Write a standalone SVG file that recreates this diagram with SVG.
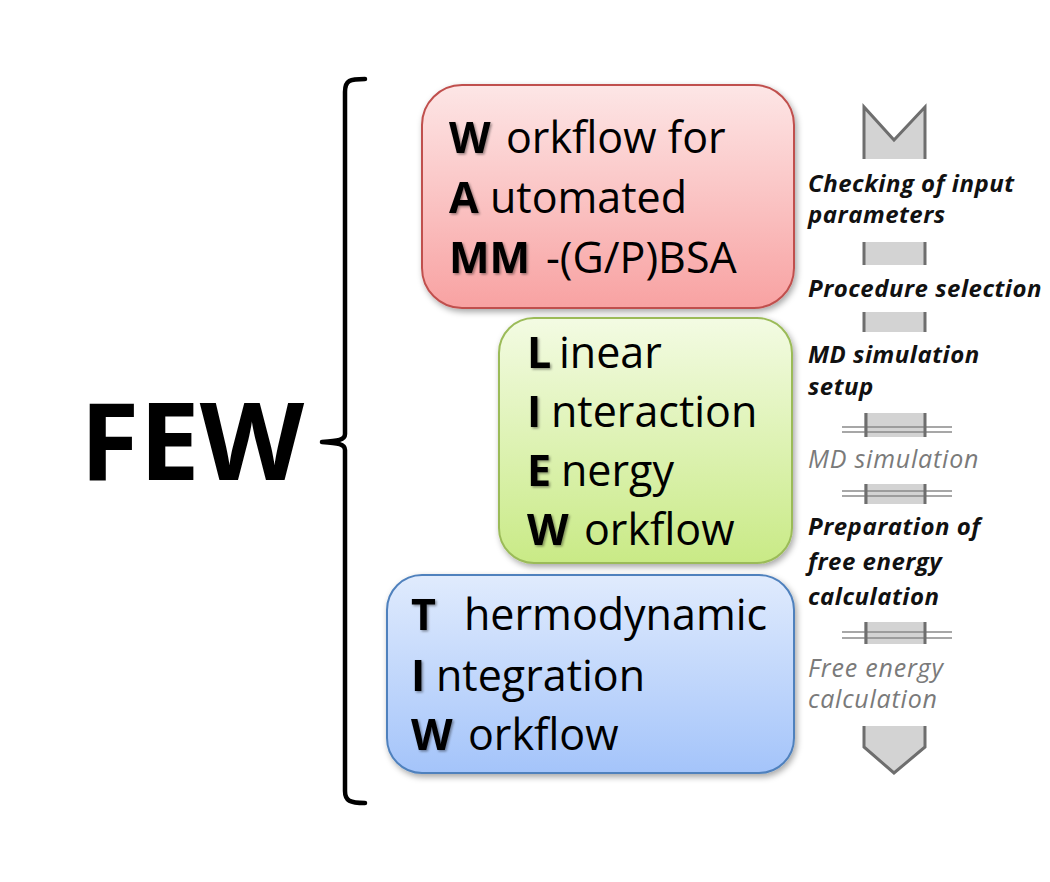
<svg xmlns="http://www.w3.org/2000/svg" width="1050" height="882" viewBox="0 0 1050 882">
<defs>
<linearGradient id="gRed" x1="0" y1="0" x2="0" y2="1"><stop offset="0" stop-color="#fde6e6"/><stop offset="1" stop-color="#f8a2a2"/></linearGradient>
<linearGradient id="gGreen" x1="0" y1="0" x2="0" y2="1"><stop offset="0" stop-color="#f3fbe3"/><stop offset="1" stop-color="#c9ea86"/></linearGradient>
<linearGradient id="gBlue" x1="0" y1="0" x2="0" y2="1"><stop offset="0" stop-color="#e0ebfd"/><stop offset="1" stop-color="#a4c4fa"/></linearGradient>
<filter id="shadow" x="-10%" y="-10%" width="130%" height="130%"><feDropShadow dx="2" dy="3" stdDeviation="3" flood-color="#000" flood-opacity="0.35"/></filter>
<filter id="tshadow" x="-20%" y="-20%" width="150%" height="150%"><feDropShadow dx="1.5" dy="1.5" stdDeviation="1" flood-color="#000" flood-opacity="0.4"/></filter>
</defs>
<style>
.big{font-family:"Open Sans",sans-serif;font-weight:bold;font-size:108px;fill:#000}
.t{font-family:"Open Sans",sans-serif;font-size:43px;fill:#000}
.b{font-weight:bold;filter:url(#tshadow)}
.s{font-family:"Open Sans",sans-serif;font-size:24px;font-style:italic;font-weight:bold;fill:#111;letter-spacing:0.5px}
.g{font-family:"Open Sans",sans-serif;font-size:25px;font-style:italic;fill:#7a7a7a;letter-spacing:0.8px}
.sh{fill:#d3d3d3;stroke:none}
.ed{stroke:#6e6e6e;stroke-width:3;fill:none}
.dl{stroke:#8a8a8a;stroke-width:1.5;fill:none}
</style>
<rect width="1050" height="882" fill="#fff"/>
<g id="few"><text class="big" x="80" y="480">FEW</text></g>
<g id="connectors">
<path d="M365,79 C350,79 345,80 345,92 L345,434 C345,440 338,441 322,442 C338,443 345,444 345,450 L345,791 C345,801 350,803 365,803" fill="none" stroke="#000" stroke-width="4.5" stroke-linejoin="round" stroke-linecap="round"/>
</g>
<g id="wamm">
<rect x="422" y="85" width="372" height="223" rx="40" fill="url(#gRed)" stroke="#c0504d" stroke-width="2" filter="url(#shadow)"/>
<text class="t" y="153"><tspan class="b" x="449">W</tspan><tspan x="506">orkflow for</tspan></text>
<text class="t" y="213"><tspan class="b" x="449">A</tspan><tspan x="490">utomated</tspan></text>
<text class="t" y="273"><tspan class="b" x="449">MM</tspan><tspan x="546">-(G/P)BSA</tspan></text>
</g>
<g id="liew">
<rect x="499" y="318" width="293" height="245" rx="35" fill="url(#gGreen)" stroke="#9bbb59" stroke-width="2" filter="url(#shadow)"/>
<text class="t" y="368"><tspan class="b" x="527">L</tspan><tspan x="559">inear</tspan></text>
<text class="t" y="427"><tspan class="b" x="527">I</tspan><tspan x="551">nteraction</tspan></text>
<text class="t" y="486"><tspan class="b" x="527">E</tspan><tspan x="561">nergy</tspan></text>
<text class="t" y="545"><tspan class="b" x="527">W</tspan><tspan x="584">orkflow</tspan></text>
</g>
<g id="tiw">
<rect x="387" y="575" width="407" height="198" rx="35" fill="url(#gBlue)" stroke="#4f81bd" stroke-width="2" filter="url(#shadow)"/>
<text class="t" y="630"><tspan class="b" x="411">T</tspan><tspan x="464">hermodynamic</tspan></text>
<text class="t" y="691"><tspan class="b" x="411">I</tspan><tspan x="436">ntegration</tspan></text>
<text class="t" y="750"><tspan class="b" x="411">W</tspan><tspan x="468">orkflow</tspan></text>
</g>
<g id="flow">
<polygon class="sh" points="864,107 894,140 925,107 925,159 864,159"/>
<polyline class="ed" points="864,159 864,107 894,140 925,107 925,159"/>
<text class="s" x="808" y="192">Checking of input</text>
<text class="s" x="808" y="223">parameters</text>
<rect class="sh" x="864" y="242" width="61" height="23"/>
<path class="ed" d="M864,242V265M925,242V265"/>
<text class="s" x="808" y="297">Procedure selection</text>
<rect class="sh" x="864" y="312" width="61" height="20"/>
<path class="ed" d="M864,312V332M925,312V332"/>
<text class="s" x="808" y="363">MD simulation</text>
<text class="s" x="808" y="395">setup</text>
<rect class="sh" x="864" y="413" width="61" height="24"/>
<path class="dl" d="M842,427H952M842,432H952"/>
<path class="ed" d="M866,413V437M925,413V437"/>
<text class="g" x="808" y="468">MD simulation</text>
<rect class="sh" x="864" y="484" width="61" height="20"/>
<path class="dl" d="M842,491H952M842,496H952"/>
<path class="ed" d="M866,484V504M925,484V504"/>
<text class="s" x="808" y="535">Preparation of</text>
<text class="s" x="808" y="570">free energy</text>
<text class="s" x="808" y="605">calculation</text>
<rect class="sh" x="864" y="622" width="61" height="22"/>
<path class="dl" d="M842,632H952M842,638H952"/>
<path class="ed" d="M866,622V644M925,622V644"/>
<text class="g" x="808" y="677">Free energy</text>
<text class="g" x="808" y="708">calculation</text>
<polygon class="sh" points="864,726 925,726 925,747 894,773 864,747"/>
<polyline class="ed" points="864,726 864,747 894,773 925,747 925,726"/>
</g>
</svg>
